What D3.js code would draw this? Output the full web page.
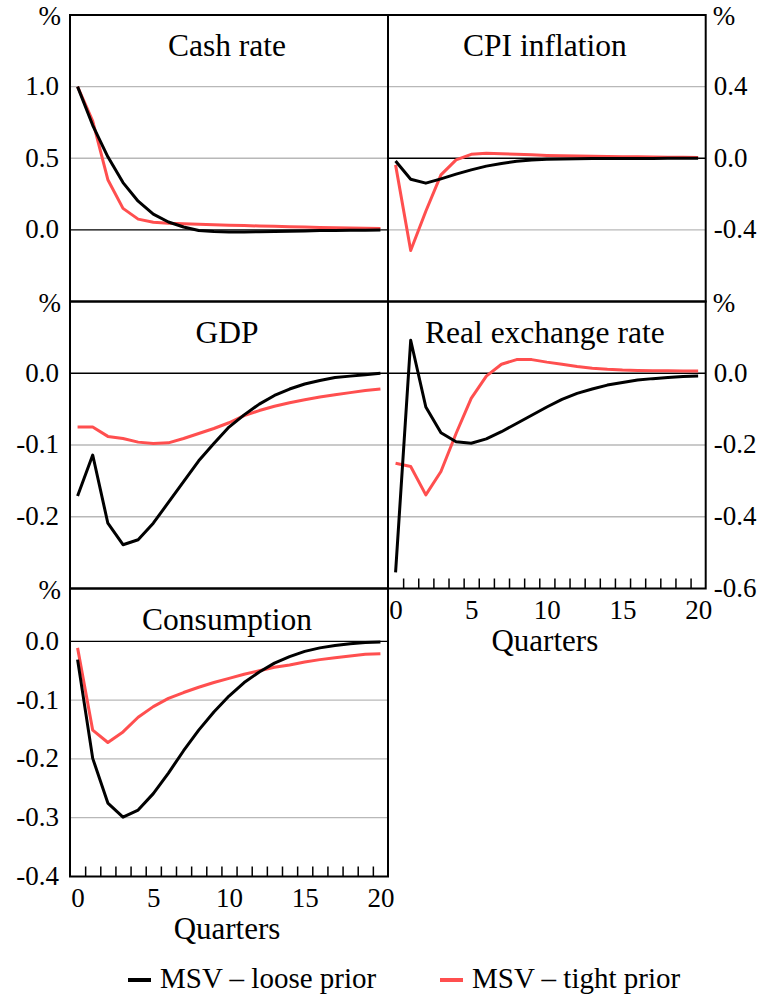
<!DOCTYPE html>
<html>
<head>
<meta charset="utf-8">
<script src="https://cdn.jsdelivr.net/npm/d3@7"></script>
<style>
  html, body { margin: 0; padding: 0; background: #fff; }
  svg { display: block; }
  svg text { font-family: "Liberation Serif", "Times New Roman", serif; }
</style>
</head>
<body>
<svg id="chart" width="765" height="998"></svg>
<script>
// Quarters after the shock
const quarters = [0,1,2,3,4,5,6,7,8,9,10,11,12,13,14,15,16,17,18,19,20];
const xTickLabels = [0, 5, 10, 15, 20];

// Impulse responses (%), MSV with loose and tight priors
const cashLoose = [1.0,0.73,0.51,0.33,0.20,0.11,0.055,0.02,-0.004,-0.011,-0.014,-0.014,-0.013,-0.011,-0.009,-0.007,-0.005,-0.004,-0.003,-0.002,-0.001];
const cashTight = [1.0,0.76,0.35,0.15,0.075,0.053,0.046,0.042,0.039,0.036,0.033,0.030,0.027,0.025,0.022,0.020,0.017,0.015,0.013,0.011,0.009];

const cpiLoose = [-0.015,-0.117,-0.139,-0.115,-0.089,-0.065,-0.044,-0.029,-0.017,-0.010,-0.006,-0.004,-0.003,-0.002,-0.002,-0.001,-0.001,-0.001,0.0,0.0,0.0];
const cpiTight = [-0.037,-0.515,-0.296,-0.093,-0.009,0.022,0.028,0.025,0.022,0.019,0.016,0.014,0.012,0.011,0.010,0.009,0.008,0.007,0.006,0.005,0.004];

const gdpLoose = [-0.171,-0.114,-0.209,-0.239,-0.232,-0.209,-0.180,-0.151,-0.122,-0.098,-0.075,-0.058,-0.043,-0.031,-0.022,-0.015,-0.010,-0.006,-0.004,-0.002,0.0];
const gdpTight = [-0.075,-0.075,-0.088,-0.091,-0.096,-0.098,-0.097,-0.091,-0.084,-0.077,-0.069,-0.059,-0.052,-0.046,-0.041,-0.037,-0.033,-0.030,-0.027,-0.024,-0.022];

const rerLoose = [-0.555,0.092,-0.094,-0.166,-0.191,-0.195,-0.183,-0.163,-0.140,-0.117,-0.094,-0.073,-0.056,-0.044,-0.033,-0.026,-0.019,-0.015,-0.012,-0.009,-0.008];
const rerTight = [-0.251,-0.260,-0.339,-0.274,-0.168,-0.070,-0.008,0.025,0.038,0.038,0.031,0.025,0.019,0.014,0.011,0.009,0.008,0.007,0.007,0.006,0.006];

const consLoose = [-0.031,-0.199,-0.275,-0.299,-0.287,-0.259,-0.224,-0.186,-0.151,-0.120,-0.093,-0.070,-0.052,-0.037,-0.026,-0.017,-0.011,-0.007,-0.004,-0.002,-0.001];
const consTight = [-0.011,-0.151,-0.172,-0.154,-0.129,-0.111,-0.097,-0.087,-0.078,-0.070,-0.063,-0.056,-0.050,-0.044,-0.040,-0.035,-0.031,-0.028,-0.025,-0.022,-0.021];

// Y tick labels per panel
const cashTicks = [0.0, 0.5, 1.0];
const cpiTicks = [-0.4, 0.0, 0.4];
const gdpTicks = [-0.2, -0.1, 0.0];
const rerTicks = [-0.6, -0.4, -0.2, 0.0];
const consTicks = [-0.4, -0.3, -0.2, -0.1, 0.0];

const seriesNames = ["MSV \u2013 loose prior", "MSV \u2013 tight prior"];
const colors = ["#000000", "#ff4f4f"];

const svg = d3.select("#chart");

// Layout
const colX = [[70, 388], [388, 705.7]];
const rowY = [[15, 301.5], [301.5, 588.5], [588.5, 876.5]];
const tickFont = 27;
const titleFont = 31.5;

const panels = [
  { title: "Cash rate", col: 0, row: 0, domain: [-0.5, 1.5], ticks: cashTicks, side: "left", data: [cashLoose, cashTight], xAxis: false },
  { title: "CPI inflation", col: 1, row: 0, domain: [-0.8, 0.8], ticks: cpiTicks, side: "right", data: [cpiLoose, cpiTight], xAxis: false },
  { title: "GDP", col: 0, row: 1, domain: [-0.3, 0.1], ticks: gdpTicks, side: "left", data: [gdpLoose, gdpTight], xAxis: false },
  { title: "Real exchange rate", col: 1, row: 1, domain: [-0.6, 0.2], ticks: rerTicks, side: "right", data: [rerLoose, rerTight], xAxis: true },
  { title: "Consumption", col: 0, row: 2, domain: [-0.4, 0.09], ticks: consTicks, side: "left", data: [consLoose, consTight], xAxis: true }
];

const fmt = v => (Math.abs(v) < 1e-9 ? 0 : v).toFixed(1);

panels.forEach(p => {
  const [x0, x1] = colX[p.col];
  const [y0, y1] = rowY[p.row];
  const x = d3.scaleLinear().domain([-0.5, 20.5]).range([x0, x1]);
  const y = d3.scaleLinear().domain(p.domain).range([y1, y0]);
  const g = svg.append("g");

  // gridlines
  g.selectAll("line.grid")
    .data(p.ticks.filter(t => t !== 0 && y(t) > y0 + 1 && y(t) < y1 - 1))
    .join("line")
    .attr("x1", x0).attr("x2", x1)
    .attr("y1", d => y(d)).attr("y2", d => y(d))
    .attr("stroke", "#b8b8b8").attr("stroke-width", 1.3);

  // zero line
  g.append("line")
    .attr("x1", x0).attr("x2", x1)
    .attr("y1", y(0)).attr("y2", y(0))
    .attr("stroke", "#000").attr("stroke-width", 1.4);

  // series: tight prior first so the loose prior sits on top
  const line = d3.line().x((d, i) => x(quarters[i])).y(d => y(d));
  [1, 0].forEach(k => {
    g.append("path")
      .datum(p.data[k])
      .attr("d", line)
      .attr("fill", "none")
      .attr("stroke", colors[k])
      .attr("stroke-width", 3)
      .attr("stroke-linejoin", "round");
  });

  // frame
  g.append("rect")
    .attr("x", x0).attr("y", y0)
    .attr("width", x1 - x0).attr("height", y1 - y0)
    .attr("fill", "none").attr("stroke", "#000").attr("stroke-width", 2);

  // title
  g.append("text")
    .attr("x", (x0 + x1) / 2 - 2)
    .attr("y", y0 + 41)
    .attr("text-anchor", "middle")
    .attr("font-size", titleFont)
    .text(p.title);

  // y axis labels
  const yAxis = (p.side === "left" ? d3.axisLeft(y) : d3.axisRight(y))
    .tickValues(p.ticks).tickSize(0).tickPadding(11).tickFormat(fmt);
  const ya = g.append("g")
    .attr("transform", `translate(${p.side === "left" ? x0 : x1},0)`)
    .call(yAxis)
    .attr("font-size", tickFont);
  ya.select(".domain").remove();
  ya.selectAll("text").attr("fill", "#000").attr("dy", "0.29em");
  if (p.side === "right") ya.selectAll(".tick text").attr("x", 8);

  // unit label
  g.append("text")
    .attr("x", p.side === "left" ? x0 - 9 : x1 + 7)
    .attr("y", y0 + 10)
    .attr("text-anchor", p.side === "left" ? "end" : "start")
    .attr("font-size", tickFont)
    .text("%");

  if (p.xAxis) {
    const between = quarters.slice(0, 20).map(q => q + 0.5);
    const xt = g.append("g")
      .attr("transform", `translate(0,${y1})`)
      .call(d3.axisBottom(x).tickValues(between).tickSize(-10).tickFormat(""));
    xt.select(".domain").remove();
    xt.selectAll("line").attr("stroke", "#000").attr("stroke-width", 1.5);

    const xl = g.append("g")
      .attr("transform", `translate(0,${y1})`)
      .call(d3.axisBottom(x).tickValues(xTickLabels).tickSize(0).tickFormat(d3.format("d")))
      .attr("font-size", tickFont);
    xl.select(".domain").remove();
    xl.selectAll("text").attr("fill", "#000").attr("y", 30).attr("dy", null);

    g.append("text")
      .attr("x", x(10) - 2)
      .attr("y", y1 + 62)
      .attr("text-anchor", "middle")
      .attr("font-size", 31)
      .text("Quarters");
  }
});

// Legend
const legendX = [128, 440];
const leg = svg.append("g");
seriesNames.forEach((name, i) => {
  leg.append("line")
    .attr("x1", legendX[i]).attr("x2", legendX[i] + 23)
    .attr("y1", 980).attr("y2", 980)
    .attr("stroke", colors[i]).attr("stroke-width", 4);
  leg.append("text")
    .attr("x", legendX[i] + 32)
    .attr("y", 988)
    .attr("font-size", 29)
    .text(name);
});
</script>
</body>
</html>
